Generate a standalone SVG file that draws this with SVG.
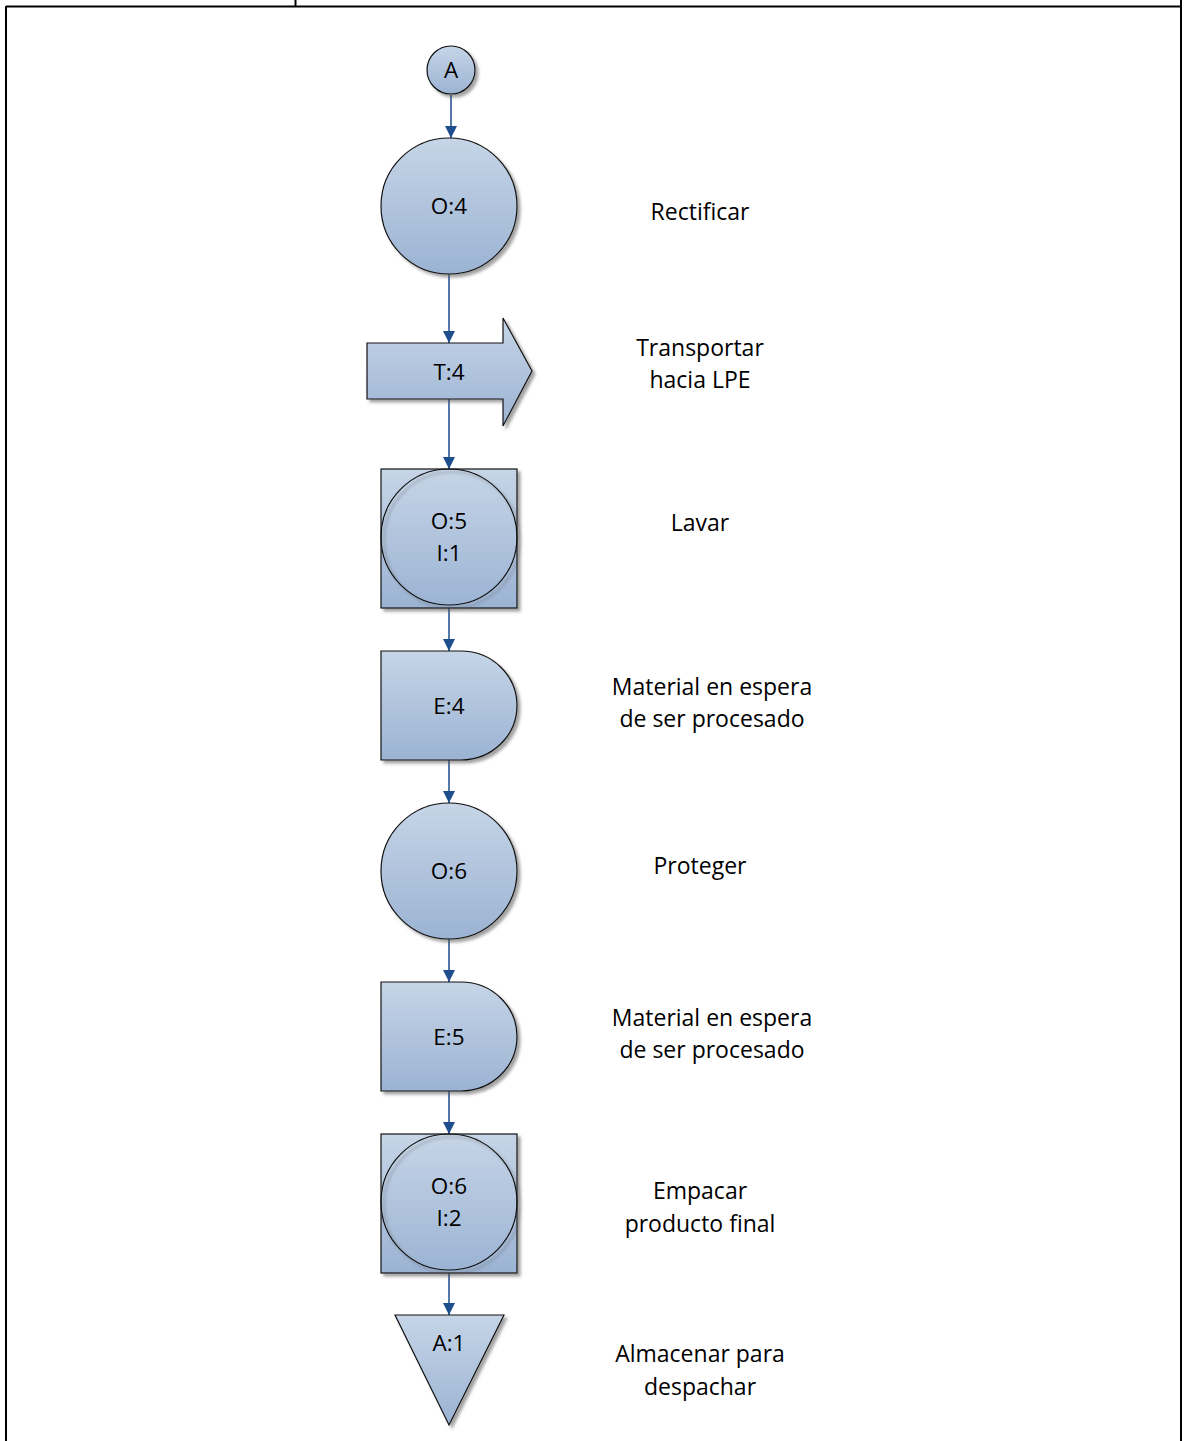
<svg xmlns="http://www.w3.org/2000/svg" width="1184" height="1441" viewBox="0 0 1184 1441">
  <style>
    .frame { stroke: #000; stroke-width: 2; fill: none; }
    .shape { fill: url(#fillGrad); stroke: #111; stroke-width: 1.2; filter: url(#shadow); }
    .inner { fill: none; stroke: #111; stroke-width: 1.2; }
    .conn { stroke: #2b5592; stroke-width: 1.6; fill: none; marker-end: url(#arrow); }
    .lbl { font-family: "Open Sans", "Liberation Sans", sans-serif; font-size: 22.5px; fill: #000; text-anchor: middle; }
    .desc { font-family: "Open Sans", "Liberation Sans", sans-serif; font-size: 23px; fill: #000; text-anchor: middle; }
  </style>
  <defs>
    <linearGradient id="fillGrad" x1="0" y1="0" x2="0" y2="1">
      <stop offset="0" stop-color="#c6d5e7"/>
      <stop offset="1" stop-color="#9bb3d3"/>
    </linearGradient>
    <filter id="shadow" x="-20%" y="-20%" width="150%" height="150%">
      <feDropShadow dx="3" dy="3" stdDeviation="1.5" flood-color="#555" flood-opacity="0.55"/>
    </filter>
    <marker id="arrow" viewBox="0 0 10 10" refX="10" refY="5" markerWidth="7.5" markerHeight="7.5" markerUnits="strokeWidth" orient="auto">
      <path d="M0,0 L10,5 L0,10 z" fill="#1f4e8c"/>
    </marker>
  </defs>

  <rect width="1184" height="1441" fill="#fff"/>

  <!-- table frame -->
  <g id="frame">
    <line class="frame" x1="6" y1="6.5" x2="1182" y2="6.5"/>
    <line class="frame" x1="6" y1="6" x2="6" y2="1441"/>
    <line class="frame" x1="1181" y1="0" x2="1181" y2="1441"/>
    <line class="frame" x1="295.5" y1="0" x2="295.5" y2="6"/>
  </g>

  <!-- connectors -->
  <g id="connectors">
    <line class="conn" x1="451" y1="95" x2="451" y2="138"/>
    <line class="conn" x1="449" y1="274" x2="449" y2="343"/>
    <line class="conn" x1="449" y1="399" x2="449" y2="469"/>
    <line class="conn" x1="449" y1="608" x2="449" y2="651"/>
    <line class="conn" x1="449" y1="760" x2="449" y2="803"/>
    <line class="conn" x1="449" y1="939" x2="449" y2="982"/>
    <line class="conn" x1="449" y1="1091" x2="449" y2="1134"/>
    <line class="conn" x1="449" y1="1273" x2="449" y2="1315"/>
  </g>

  <g id="node-A">
    <circle class="shape" cx="451" cy="70" r="24"/>
    <text class="lbl" x="451" y="78">A</text>
  </g>

  <g id="node-O4">
    <circle class="shape" cx="449" cy="206" r="68"/>
    <text class="lbl" x="449" y="214">O:4</text>
  </g>

  <g id="node-T4">
    <path class="shape" d="M367,343 L503,343 L503,318 L532,371 L503,426 L503,399 L367,399 Z"/>
    <text class="lbl" x="449" y="380">T:4</text>
  </g>

  <g id="node-O5I1">
    <rect class="shape" x="381" y="469" width="136" height="139"/>
    <circle class="inner" cx="449" cy="537" r="68" style="filter:url(#shadow)"/>
    <text class="lbl" x="449" y="529">O:5</text>
    <text class="lbl" x="449" y="561">I:1</text>
  </g>

  <g id="node-E4">
    <path class="shape" d="M381,651 L461,651 A56,54.5 0 0 1 461,760 L381,760 Z"/>
    <text class="lbl" x="449" y="714">E:4</text>
  </g>

  <g id="node-O6">
    <circle class="shape" cx="449" cy="871" r="68"/>
    <text class="lbl" x="449" y="879">O:6</text>
  </g>

  <g id="node-E5">
    <path class="shape" d="M381,982 L461,982 A56,54.5 0 0 1 461,1091 L381,1091 Z"/>
    <text class="lbl" x="449" y="1045">E:5</text>
  </g>

  <g id="node-O6I2">
    <rect class="shape" x="381" y="1134" width="136" height="139"/>
    <circle class="inner" cx="449" cy="1202" r="68" style="filter:url(#shadow)"/>
    <text class="lbl" x="449" y="1194">O:6</text>
    <text class="lbl" x="449" y="1226">I:2</text>
  </g>

  <g id="node-A1">
    <path class="shape" d="M395,1315 L504,1315 L449,1425 Z"/>
    <text class="lbl" x="449" y="1351">A:1</text>
  </g>

  <!-- step descriptions -->
  <g id="descriptions">
    <text class="desc" x="700" y="220">Rectificar</text>
    <text class="desc" x="700" y="356">Transportar</text>
    <text class="desc" x="700" y="388">hacia LPE</text>
    <text class="desc" x="700" y="531">Lavar</text>
    <text class="desc" x="712" y="695">Material en espera</text>
    <text class="desc" x="712" y="727">de ser procesado</text>
    <text class="desc" x="700" y="874">Proteger</text>
    <text class="desc" x="712" y="1026">Material en espera</text>
    <text class="desc" x="712" y="1058">de ser procesado</text>
    <text class="desc" x="700" y="1199">Empacar</text>
    <text class="desc" x="700" y="1232">producto final</text>
    <text class="desc" x="700" y="1362">Almacenar para</text>
    <text class="desc" x="700" y="1395">despachar</text>
  </g>
</svg>
